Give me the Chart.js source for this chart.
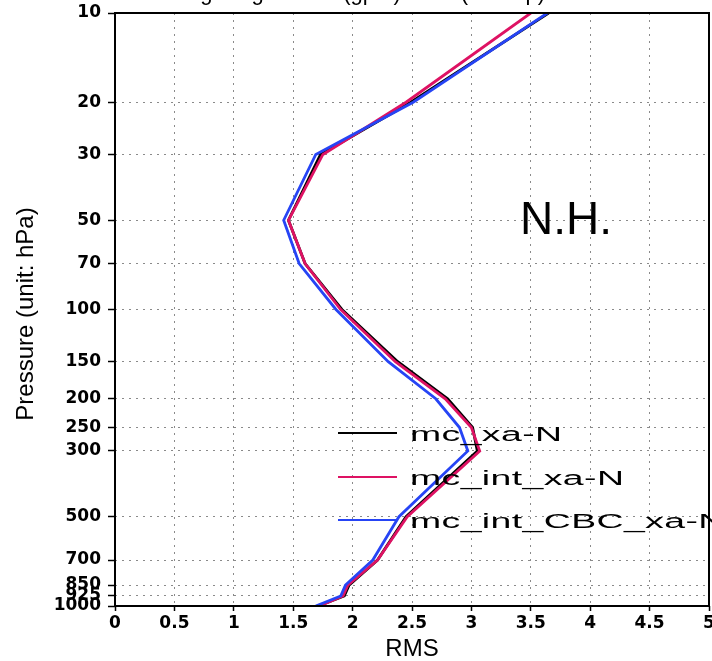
<!DOCTYPE html>
<html>
<head>
<meta charset="utf-8">
<script src="https://cdn.jsdelivr.net/npm/chart.js@4/dist/chart.umd.min.js"></script>
<style>
  html, body { margin: 0; padding: 0; background: #fff; }
  #wrap { width: 712px; height: 661px; position: relative; }
</style>
</head>
<body>
<div id="wrap"><canvas id="c" width="712" height="661"></canvas></div>
<script>
// Pressure levels (hPa)
const levels = [1000, 925, 850, 700, 500, 300, 250, 200, 150, 100, 70, 50, 30, 20, 10];
// RMS values per series
const mcXa       = [1.71, 1.93, 1.97, 2.21, 2.45, 3.05, 3.01, 2.80, 2.38, 1.91, 1.60, 1.46, 1.73, 2.49, 3.65];
const mcIntXa    = [1.72, 1.92, 1.96, 2.21, 2.46, 3.07, 3.00, 2.78, 2.36, 1.90, 1.60, 1.46, 1.75, 2.45, 3.50];
const mcIntCbcXa = [1.69, 1.90, 1.94, 2.17, 2.39, 2.97, 2.90, 2.70, 2.30, 1.86, 1.55, 1.42, 1.69, 2.51, 3.64];
// Tick labels
const yTicks = [10, 20, 30, 50, 70, 100, 150, 200, 250, 300, 500, 700, 850, 925, 1000];
const xTicks = [0, 0.5, 1, 1.5, 2, 2.5, 3, 3.5, 4, 4.5, 5];
// Text
const seriesNames = ['mc_xa-N', 'mc_int_xa-N', 'mc_int_CBC_xa-N'];
const seriesColors = ['#000000', 'rgb(222,18,99)', 'rgb(38,68,245)'];
const regionLabel = 'N.H.';
const xTitle = 'RMS';
const yTitle = 'Pressure (unit: hPa)';
// NOTE: the reference's title is cut off at the top edge; only the descenders of a few
// glyphs ("g", "(", "p", ")") are visible. This wording is a PLACEHOLDER GUESS chosen to
// reproduce those fragments — it was not read from the image and is not the real title.
const topTitle = 'Avg Height RMS (gpm) of xa (hPa up)';

const seriesValues = [mcXa, mcIntXa, mcIntCbcXa];
const datasets = seriesValues.map((vals, i) => ({
  label: seriesNames[i],
  data: vals.map((v, j) => ({ x: v, y: levels[j] })),
  borderColor: seriesColors[i],
  backgroundColor: seriesColors[i],
  borderWidth: 2.8,
  pointRadius: 0,
  tension: 0,
  showLine: true,
  fill: false,
  order: 3 - i
}));

const tickFont = { family: 'DejaVu Sans', size: 17, weight: 'bold' };

function stretchedText(ctx, text, x, y, sx, gap) {
  let cx = x;
  for (const ch of text) {
    ctx.save();
    ctx.translate(cx, y);
    ctx.scale(sx, 1);
    ctx.fillText(ch, 0, 0);
    ctx.restore();
    cx += ctx.measureText(ch).width * sx + gap;
  }
}

const decor = {
  id: 'decor',
  afterDraw(chart) {
    const ctx = chart.ctx;
    const a = chart.chartArea;
    ctx.save();
    // frame
    ctx.strokeStyle = '#000';
    ctx.lineWidth = 2;
    ctx.setLineDash([]);
    ctx.strokeRect(a.left, a.top, a.right - a.left, a.bottom - a.top);

    // region label
    ctx.fillStyle = '#000';
    ctx.font = '46px "Liberation Sans"';
    ctx.textAlign = 'left';
    ctx.textBaseline = 'alphabetic';
    ctx.fillText(regionLabel, 520, 234);

    // axis titles
    ctx.font = '24px "Liberation Sans"';
    ctx.textAlign = 'center';
    ctx.fillText(xTitle, (a.left + a.right) / 2, 656);
    ctx.save();
    ctx.translate(33, 314);
    ctx.rotate(-Math.PI / 2);
    ctx.fillText(yTitle, 0, 0);
    ctx.restore();

    // cut-off top title (placeholder text, see note above)
    ctx.font = '22px "Liberation Sans"';
    ctx.fillText(topTitle, 360, 0);

    // legend
    const legY = [433, 477, 520];
    ctx.font = '20px "Liberation Sans"';
    ctx.textAlign = 'left';
    seriesNames.forEach((name, i) => {
      ctx.strokeStyle = seriesColors[i];
      ctx.lineWidth = 1.8;
      ctx.beginPath();
      ctx.moveTo(338, legY[i]);
      ctx.lineTo(397, legY[i]);
      ctx.stroke();
      ctx.fillStyle = '#000';
      stretchedText(ctx, name, 410, legY[i] + 8, 1.87, 0.4);
    });
    ctx.restore();
  }
};

new Chart(document.getElementById('c'), {
  type: 'line',
  data: { datasets },
  options: {
    responsive: false,
    animation: false,
    devicePixelRatio: 1,
    layout: { padding: { top: 13, right: 3, left: 0, bottom: 0 } },
    plugins: { legend: { display: false }, tooltip: { enabled: false }, title: { display: false } },
    scales: {
      x: {
        type: 'linear',
        position: 'bottom',
        min: 0, max: 5,
        afterBuildTicks: s => { s.ticks = xTicks.map(v => ({ value: v })); },
        afterFit: s => { s.height = 55; s.paddingLeft = 0; s.paddingRight = 0; },
        ticks: { autoSkip: false, maxRotation: 0, color: '#000', font: tickFont, padding: 2, callback: v => String(v) },
        grid: { color: '#8a8a8a', lineWidth: 1, tickColor: '#000', tickLength: 5, tickWidth: 1.5, tickBorderDash: [] },
        border: { display: false, dash: [2, 5] }
      },
      y: {
        type: 'logarithmic',
        position: 'left',
        reverse: true,
        min: 10, max: 1000,
        afterBuildTicks: s => { s.ticks = yTicks.map(v => ({ value: v })); },
        afterFit: s => { s.width = 115; s.paddingTop = 0; s.paddingBottom = 0; },
        ticks: { autoSkip: false, color: '#000', font: tickFont, padding: 7, callback: v => String(v) },
        grid: { color: '#8a8a8a', lineWidth: 1, tickColor: '#000', tickLength: 7, tickWidth: 1.5, tickBorderDash: [] },
        border: { display: false, dash: [2, 5] }
      }
    }
  },
  plugins: [decor]
});
</script>
</body>
</html>
